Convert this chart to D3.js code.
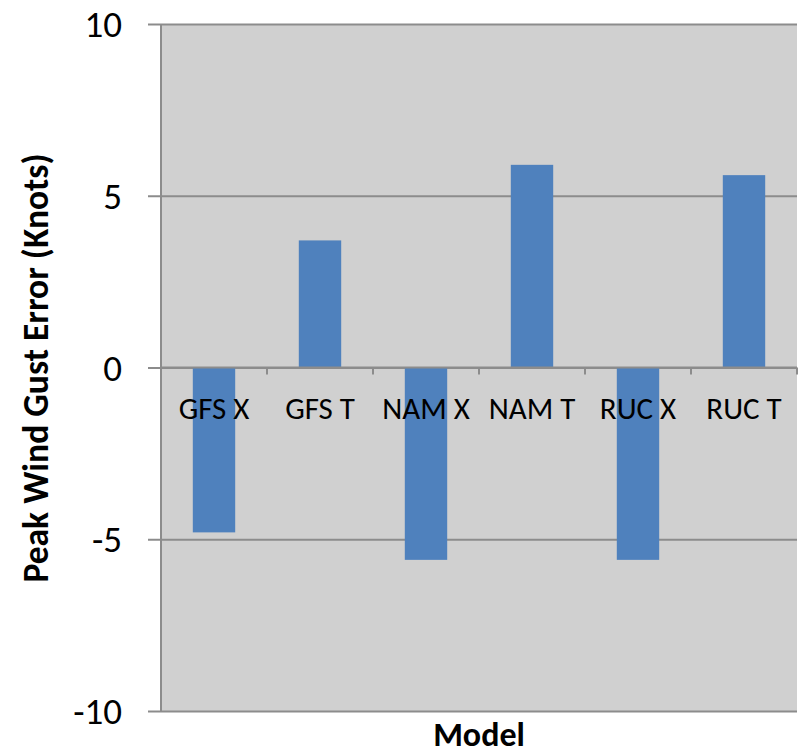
<!DOCTYPE html>
<html>
<head>
<meta charset="utf-8">
<script src="https://cdn.jsdelivr.net/npm/d3@7"></script>
<style>
  body { margin: 0; background: #fff; }
  svg text { font-family: Carlito, Calibri, "Open Sans", sans-serif; fill: #000; }
</style>
</head>
<body>
<div id="chart"></div>
<script>
(function(){
  'use strict';

  // data
  var models = ['GFS X', 'GFS T', 'NAM X', 'NAM T', 'RUC X', 'RUC T'];
  var gustError = [-4.8, 3.7, -5.6, 5.9, -5.6, 5.6];
  var yTicks = [-10, -5, 0, 5, 10];

  var W = 802, H = 755,
      left = 161, right = 797, top = 24, bottom = 711;

  var svg = d3.select('#chart').append('svg')
    .attr('width', W)
    .attr('height', H);

  var x = d3.scaleBand()
    .domain(models)
    .range([left, right])
    .paddingInner(0.6)
    .paddingOuter(0.3);

  var y = d3.scaleLinear()
    .domain([-10, 10])
    .range([bottom, top]);

  // plot background
  svg.append('rect')
    .attr('x', left)
    .attr('y', top)
    .attr('width', right - left)
    .attr('height', bottom - top)
    .style('fill', '#d0d0d0');

  // gridlines + left ticks
  var yAxis = d3.axisLeft(y)
    .tickValues(yTicks)
    .tickSize(right - left + 13)
    .tickPadding(26)
    .tickFormat(function(d) { return String(d); });

  var gy = svg.append('g')
    .attr('transform', 'translate(' + right + ',0)')
    .call(yAxis);
  gy.select('.domain').remove();
  gy.selectAll('.tick line')
    .style('stroke', '#8c8c8c')
    .style('stroke-width', 2);
  gy.selectAll('.tick text')
    .style('font-size', '37px')
    .attr('dy', '0.34em');

  // bars
  svg.selectAll('.bar')
    .data(gustError)
    .enter()
    .append('rect')
    .attr('class', 'bar')
    .attr('x', function(d, i) { return x(models[i]); })
    .attr('width', x.bandwidth())
    .attr('y', function(d) { return y(Math.max(0, d)); })
    .attr('height', function(d) { return Math.abs(y(d) - y(0)); })
    .style('fill', '#4f81bd');

  // left axis line
  svg.append('line')
    .attr('x1', left).attr('x2', left)
    .attr('y1', top).attr('y2', bottom)
    .style('stroke', '#8c8c8c')
    .style('stroke-width', 2);

  // category axis at zero
  var step = (right - left) / models.length;
  var gx = svg.append('g');
  gx.append('line')
    .attr('x1', left).attr('x2', right)
    .attr('y1', y(0)).attr('y2', y(0))
    .style('stroke', '#8c8c8c')
    .style('stroke-width', 2);
  gx.selectAll('.xtick')
    .data(d3.range(1, models.length + 1))
    .enter()
    .append('line')
    .attr('class', 'xtick')
    .attr('x1', function(d) { return left + d * step; })
    .attr('x2', function(d) { return left + d * step; })
    .attr('y1', y(0))
    .attr('y2', y(0) + 7)
    .style('stroke', '#8c8c8c')
    .style('stroke-width', 2);
  gx.selectAll('.xlabel')
    .data(models)
    .enter()
    .append('text')
    .attr('class', 'xlabel')
    .attr('x', function(d) { return x(d) + x.bandwidth() / 2; })
    .attr('y', y(0) + 51)
    .attr('text-anchor', 'middle')
    .style('font-size', '31px')
    .text(function(d) { return d; });

  // titles
  svg.append('text')
    .attr('x', (left + right) / 2)
    .attr('y', 746)
    .attr('text-anchor', 'middle')
    .style('font-size', '34px')
    .style('font-weight', 'bold')
    .text('Model');

  svg.append('text')
    .attr('transform', 'translate(48,' + 368 + ') rotate(-90)')
    .attr('text-anchor', 'middle')
    .style('font-size', '35.5px')
    .style('font-weight', 'bold')
    .text('Peak Wind Gust Error (Knots)');

}());
</script>
</body>
</html>
